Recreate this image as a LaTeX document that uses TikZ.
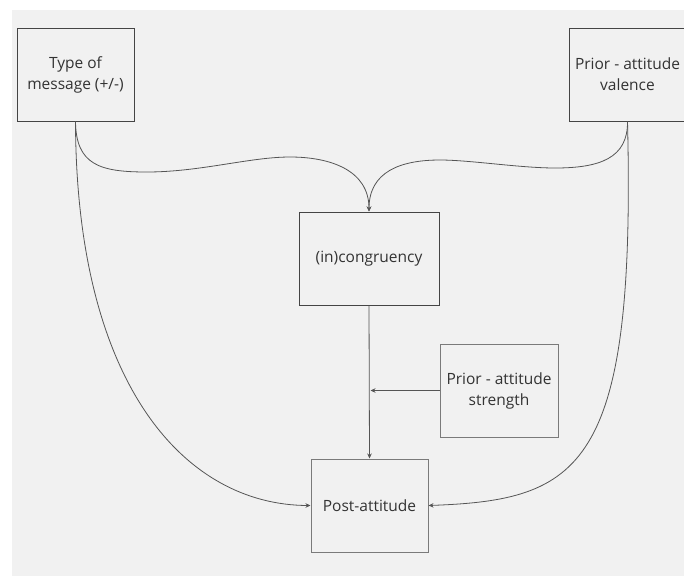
\documentclass[tikz,border=0pt]{standalone}
\usepackage{fontspec}
\setmainfont{Open Sans}
\usetikzlibrary{arrows.meta}
\definecolor{bg}{HTML}{F1F1F1}
\definecolor{dark}{HTML}{444444}
\definecolor{mid}{HTML}{7A7A7A}
\definecolor{conn}{HTML}{555555}
\definecolor{txt}{HTML}{333333}
\tikzset{
  boxnode/.style={draw=dark, line width=1pt, rectangle, minimum width=117pt, minimum height=93pt,
    align=center, font=\fontsize{15.5}{21}\selectfont, text=txt, inner sep=0pt},
  softbox/.style={boxnode, draw=mid},
  conline/.style={draw=conn, line width=0.8pt},
  arr/.style={conline, -{Stealth[length=5pt,width=4.5pt]}}
}
\begin{document}
\begin{tikzpicture}[x=1pt,y=-1pt]
\useasboundingbox (0,0) rectangle (684,576);
\fill[white] (0,0) rectangle (684,576);
\fill[bg] (12,10) rectangle (684,576);

\node[boxnode] (b1) at (75.5,74.5) {Type of\\message (+/-)};
\node[boxnode] (b2) at (627.5,74.5) {Prior - attitude\\valence};
\node[boxnode, minimum width=140pt] (b3) at (369,258.5) {(in)congruency};
\node[softbox, minimum width=118pt] (b4) at (499,390.5) {Prior - attitude\\strength};
\node[softbox] (b5) at (369.5,505.5) {Post-attitude};

\draw[arr] (b1.south) .. controls (76,165) and (100,172) .. (147,172)
  .. controls (200,172) and (250,157) .. (290,157)
  .. controls (330,157) and (369,170) .. (b3.north);
\draw[arr] (b2.south) .. controls (628,158) and (600,168) .. (555,168)
  .. controls (520,168) and (470,160) .. (440,160)
  .. controls (400,160) and (369,172) .. (b3.north);
\draw[arr] (b1.south) .. controls (76,385) and (185,505) .. (b5.west);
\draw[arr] (b2.south) .. controls (636,470) and (580,500) .. (b5.east);
\draw[arr] (b3.south) -- (b5.north);
\draw[arr, shorten >=1.5pt] (b4.west) -- (b4.west -| b3.south);
\end{tikzpicture}
\end{document}
